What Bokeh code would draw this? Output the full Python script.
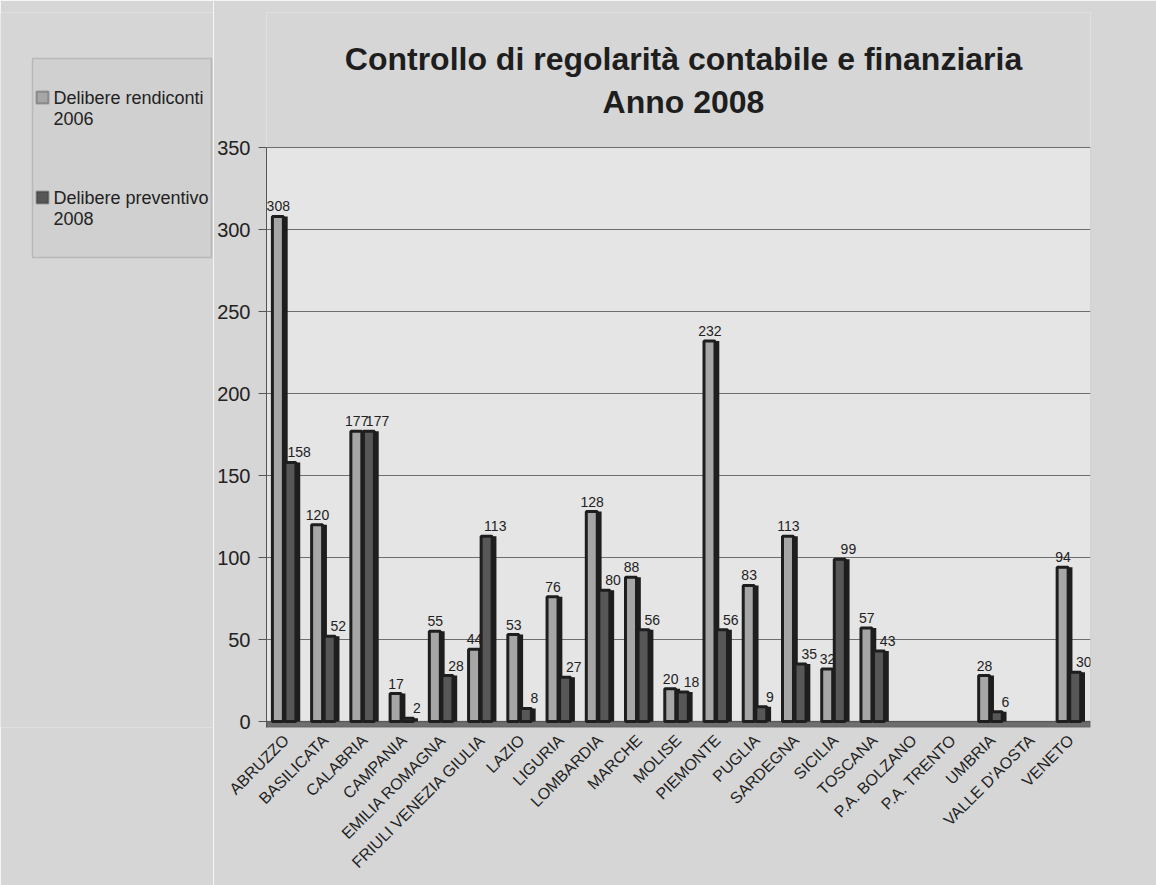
from bokeh.plotting import figure
from bokeh.layouts import row
from bokeh.models import (ColumnDataSource, FactorRange, BoxAnnotation, Range1d, FixedTicker,
                          Label)
from bokeh.core.properties import value
from bokeh.transform import dodge
from bokeh.embed import file_html
from bokeh.resources import INLINE
from math import pi

# ---- data ----
categories = ["ABRUZZO", "BASILICATA", "CALABRIA", "CAMPANIA", "EMILIA ROMAGNA",
              "FRIULI VENEZIA GIULIA", "LAZIO", "LIGURIA", "LOMBARDIA", "MARCHE",
              "MOLISE", "PIEMONTE", "PUGLIA", "SARDEGNA", "SICILIA", "TOSCANA",
              "P.A. BOLZANO", "P.A. TRENTO", "UMBRIA", "VALLE D'AOSTA", "VENETO"]
rendiconti_2006 = [308, 120, 177, 17, 55, 44, 53, 76, 128, 88, 20, 232, 83, 113, 32, 57, 0, 0, 28, 0, 94]
preventivo_2008 = [158, 52, 177, 2, 28, 113, 8, 27, 80, 56, 18, 56, 9, 35, 99, 43, 0, 0, 6, 0, 30]
series_names = ["Delibere rendiconti\n2006", "Delibere preventivo\n2008"]
y_ticks = [0, 50, 100, 150, 200, 250, 300, 350]
title_lines = ["Controllo di regolarità contabile e finanziaria", "Anno 2008"]

FONT = "Liberation Sans"
LIGHT = "#a6a6a6"
DARK = "#575757"
EDGE = "#1e1e1e"
BG = "#d6d6d6"
WALL = "#e5e5e5"
TXT = "#222222"


def make_src(vals):
    c = [k for k, v in zip(categories, vals) if v > 0]
    v = [v for v in vals if v > 0]
    return ColumnDataSource(dict(cat=c, val=v, lab=[str(x) for x in v]))


src_l = make_src(rendiconti_2006)
src_d = make_src(preventivo_2008)

# geometry (canvas pixels)
W, H = 1156, 885
LEG_W = 213                      # width of the legend strip on the left
FL, FR, FT, FB = 266, 1090, 12, 727
Y0_PX, Y350_PX = 721, 147
PX_PER_UNIT = (Y0_PX - Y350_PX) / 350.0
y_start = -(FB - Y0_PX) / PX_PER_UNIT
y_end = 350 + (Y350_PX - FT) / PX_PER_UNIT

# ---------------- main chart ----------------
p = figure(width=W - LEG_W, height=H, x_range=FactorRange(*categories, range_padding=0),
           y_range=Range1d(y_start, y_end), output_backend="svg", toolbar_location=None,
           min_border_left=FL - LEG_W, min_border_right=W - FR, min_border_top=FT,
           min_border_bottom=H - FB)
p.border_fill_color = BG
p.background_fill_color = BG
p.outline_line_color = None

# back wall and floor
p.add_layout(BoxAnnotation(top=350, fill_color=WALL, fill_alpha=1,
                           line_color="#7a7a7a", line_width=1, level="image"))
p.add_layout(BoxAnnotation(top=0, fill_color="#6e6e6e", fill_alpha=1,
                           line_color="#2a2a2a", line_width=1.5, level="underlay"))

p.xgrid.grid_line_color = None
p.ygrid.grid_line_color = "#6e6e6e"
p.ygrid.grid_line_width = 1

# bars (dark side + face)
for src, off, face in ((src_l, -0.19, LIGHT), (src_d, 0.13, DARK)):
    p.vbar(x=dodge("cat", off + 0.05, range=p.x_range), top="val", bottom=0, width=0.36,
           source=src, fill_color=EDGE, line_color=None)
    p.vbar(x=dodge("cat", off - 0.02, range=p.x_range), top="val", bottom=0, width=0.28,
           source=src, fill_color=face, line_color=EDGE, line_width=3)

# value labels
for src, off in ((src_l, -0.2), (src_d, 0.33)):
    p.text(x=dodge("cat", off, range=p.x_range), y="val", text="lab", source=src,
           text_align="center", text_baseline="bottom", y_offset=-5,
           text_font=value(FONT), text_font_size="14px", text_color=TXT)

# axes
p.yaxis.ticker = FixedTicker(ticks=y_ticks)
p.yaxis.bounds = (y_start, 350)
p.yaxis.major_label_text_font = FONT
p.yaxis.major_label_text_font_size = "20px"
p.yaxis.major_label_text_color = TXT
p.yaxis.axis_line_color = "#555555"
p.yaxis.major_tick_line_color = "#555555"
p.yaxis.major_tick_out = 8
p.yaxis.major_tick_in = 0
p.yaxis.minor_tick_line_color = None
p.yaxis.major_label_standoff = 8

p.xaxis.major_label_orientation = pi / 4
p.xaxis.major_label_text_font = FONT
p.xaxis.major_label_text_font_size = "16px"
p.xaxis.major_label_text_color = TXT
p.xaxis.axis_line_color = None
p.xaxis.major_tick_line_color = None
p.xaxis.major_tick_out = 0
p.xaxis.major_label_standoff = 10

# title (two lines, screen units relative to the frame)
for txt, yc in ((title_lines[0], 58), (title_lines[1], 101)):
    p.add_layout(Label(x=683 - FL, y=FB - yc, x_units="screen", y_units="screen", text=txt,
                       text_align="center", text_baseline="middle", text_font=FONT,
                       text_font_size="32px", text_font_style="bold", text_color="#1e1e1e"))

# ---------------- legend strip ----------------
# ranges of this strip map one data unit to one pixel (y measured up from the canvas bottom)
q = figure(width=LEG_W, height=H, x_axis_type=None, y_axis_type=None,
           x_range=Range1d(0, LEG_W), y_range=Range1d(H - FB, H - FT),
           output_backend="svg", toolbar_location=None,
           min_border_left=0, min_border_right=0, min_border_top=FT, min_border_bottom=H - FB)
q.border_fill_color = BG
q.background_fill_color = BG
q.outline_line_color = None

# legend box
q.add_layout(BoxAnnotation(left=32, right=211, top=H - 58, bottom=H - 257,
                           fill_color="#d0d0d0", fill_alpha=1, line_color="#7a7a7a",
                           line_width=1.5, level="annotation"))
# legend keys and labels
for name, face, yc in ((series_names[0], LIGHT, 97), (series_names[1], DARK, 197)):
    q.add_layout(BoxAnnotation(left=36, right=48, top=H - (yc - 6), bottom=H - (yc + 6),
                               fill_color=face, fill_alpha=1,
                               line_color=EDGE, line_width=2, level="overlay"))
    for i, line in enumerate(name.split("\n")):
        q.add_layout(Label(x=53, y=H - (yc + 21 * i), text=line, text_align="left",
                           text_baseline="middle", text_font=FONT, text_font_size="18px",
                           text_color=TXT, level="overlay"))

layout = row(q, p, spacing=0)
open("out.html", "w").write(file_html(layout, INLINE))
